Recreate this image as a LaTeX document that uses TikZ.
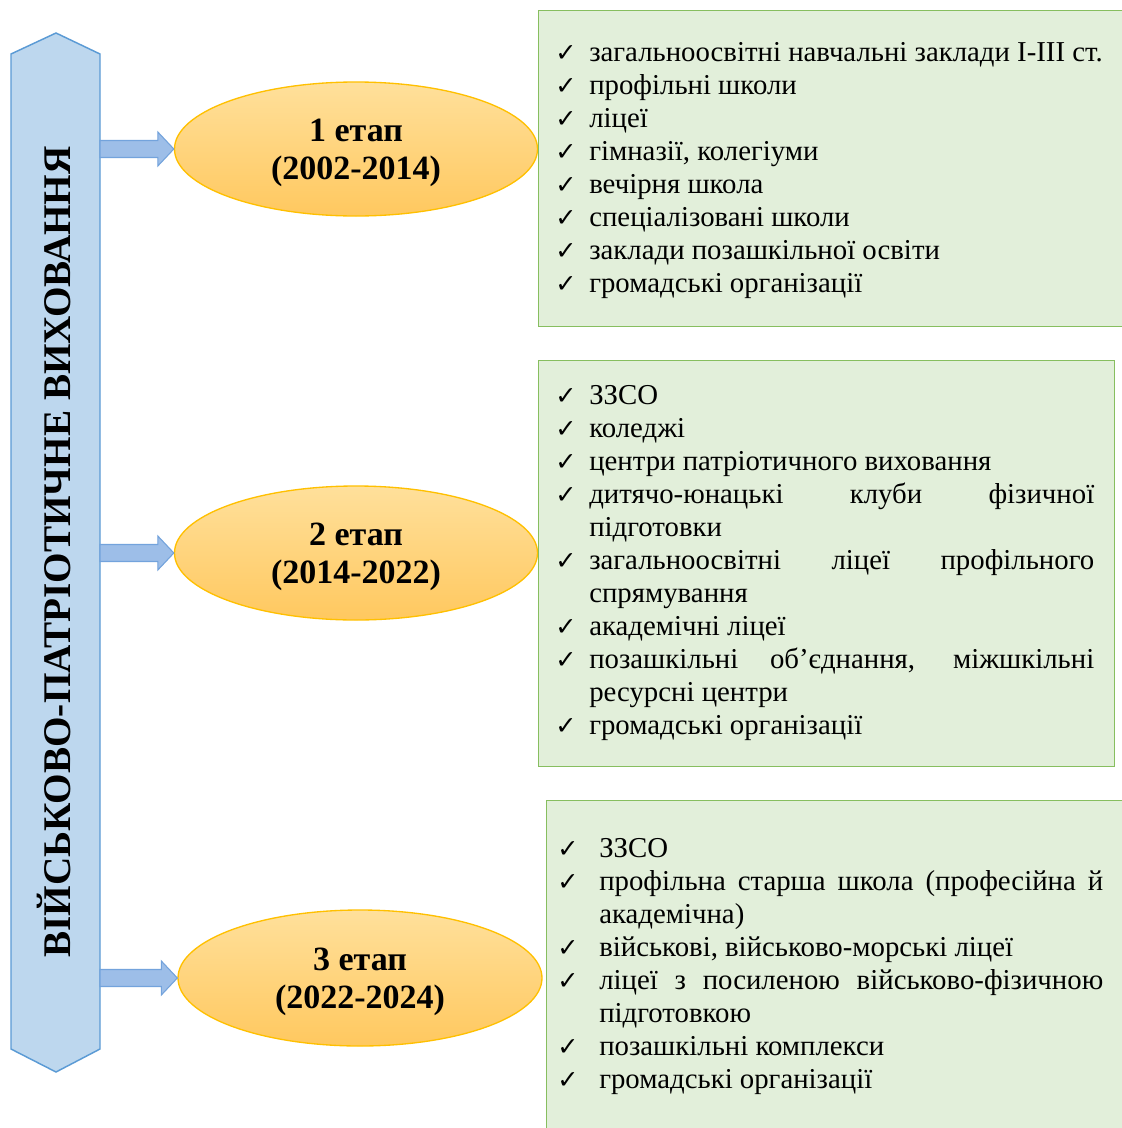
\documentclass[tikz,border=0pt]{standalone}
\usepackage{fontspec}
\setmainfont{Liberation Serif}
\newfontfamily\chkfont{DejaVu Sans}
\usetikzlibrary{shapes.geometric,calc}
\definecolor{bannerfill}{RGB}{189,215,238}
\definecolor{bannerdraw}{RGB}{91,155,213}
\definecolor{arrowfill}{RGB}{157,190,232}
\definecolor{arrowdraw}{RGB}{115,163,220}
\definecolor{ellborder}{RGB}{255,192,0}
\definecolor{elltop}{RGB}{255,224,155}
\definecolor{ellbot}{RGB}{255,200,95}
\definecolor{boxfill}{RGB}{226,239,218}
\definecolor{boxdraw}{RGB}{135,190,95}
\newlength\hi
\newcommand\itm[1]{\par\hangindent=\hi\hangafter=1\noindent\makebox[\hi][l]{\chkfont\bfseries\fontsize{19pt}{19pt}\selectfont ✓}#1}
\newcommand\listsetup{\fontsize{21.6pt}{24.75pt}\selectfont\hyphenpenalty=10000 \exhyphenpenalty=10000 \tolerance=10000 \parindent=0pt \parskip=0pt }
\newcommand\stagetext[2]{\raisebox{-3pt}[\height][\depth]{\begin{tabular}{@{}c@{}}#1\\#2\end{tabular}}}
\tikzset{
  banner/.style={fill=bannerfill, draw=bannerdraw, line width=1.1pt, line join=miter},
  barrow/.style={fill=arrowfill, draw=arrowdraw, line width=0.8pt},
  stage/.style={ellipse, draw=ellborder, line width=1pt, top color=elltop, bottom color=ellbot,
    align=center, font=\bfseries\fontsize{25.5pt}{28.5pt}\selectfont, inner sep=0pt},
  gbox/.style={rectangle, fill=boxfill, draw=boxdraw, line width=1.1pt, anchor=north west, inner sep=0pt},
  listtext/.style={anchor=west, inner sep=0pt, align=justify, font=\listsetup},
  title/.style={rotate=90, inner sep=0pt, font=\bfseries\fontsize{29.4pt}{30pt}\selectfont}
}
\begin{document}
\begin{tikzpicture}[x=0.75pt,y=-0.75pt]
\useasboundingbox (0,0) rectangle (1121,1128);
\fill[white] (0,0) rectangle (1121,1128);
% banner
\draw[banner] (11,54) -- (56,33) -- (100,54) -- (100,1049) -- (56,1072) -- (11,1049) -- cycle;
\node[title] (title) at (54,552) {ВІЙСЬКОВО-ПАТРІОТИЧНЕ ВИХОВАННЯ};
\coordinate (s1) at (100,149);
\coordinate (s2) at (100,553);
\coordinate (s3) at (100,978);
% stages
\node[stage, minimum width=272.25pt, minimum height=100.5pt] (e1) at (356,149) {\stagetext{1 етап}{(2002-2014)}};
\node[stage, minimum width=272.25pt, minimum height=100.5pt] (e2) at (356,553) {\stagetext{2 етап}{(2014-2022)}};
\node[stage, minimum width=273pt, minimum height=102pt] (e3) at (360,978) {\stagetext{3 етап}{(2022-2024)}};
\foreach \s/\e in {s1/e1,s2/e2,s3/e3}
  \draw[barrow] ($(\s)+(0,8.5)$) -- ($(\e.west)+(-16,8.5)$) -- ($(\e.west)+(-16,17)$) -- (\e.west)
    -- ($(\e.west)+(-16,-17)$) -- ($(\e.west)+(-16,-8.5)$) -- ($(\s)+(0,-8.5)$) -- cycle;
% boxes
\node[gbox, minimum width=440.25pt, minimum height=237pt] (b1) at (538,10) {};
\node[gbox, minimum width=432pt, minimum height=304.5pt] (b2) at (538,360) {};
\node[gbox, minimum width=434.25pt, minimum height=255pt] (b3) at (546,800) {};
% lists
\node[listtext, text width=411pt] (t1) at (555,163.5) {\setlength\hi{25.5pt}%
\itm{загальноосвітні навчальні заклади І-ІІІ ст.}
\itm{профільні школи}
\itm{ліцеї}
\itm{гімназії, колегіуми}
\itm{вечірня школа}
\itm{спеціалізовані школи}
\itm{заклади позашкільної освіти}
\itm{громадські організації}};
\node[listtext, text width=404.25pt] (t2) at (555,556) {\setlength\hi{25.5pt}%
\itm{ЗЗСО}
\itm{коледжі}
\itm{центри патріотичного виховання}
\itm{дитячо-юнацькі клуби фізичної\linebreak підготовки}
\itm{загальноосвітні ліцеї профільного\linebreak спрямування}
\itm{академічні ліцеї}
\itm{позашкільні об’єднання, міжшкільні\linebreak ресурсні центри}
\itm{громадські організації}};
\node[listtext, text width=409.5pt] (t3) at (557,960) {\setlength\hi{31.5pt}%
\itm{ЗЗСО}
\itm{профільна старша школа (професійна й\linebreak академічна)}
\itm{військові, військово-морські ліцеї}
\itm{ліцеї з посиленою військово-фізичною\linebreak підготовкою}
\itm{позашкільні комплекси}
\itm{громадські організації}};
\end{tikzpicture}
\end{document}
